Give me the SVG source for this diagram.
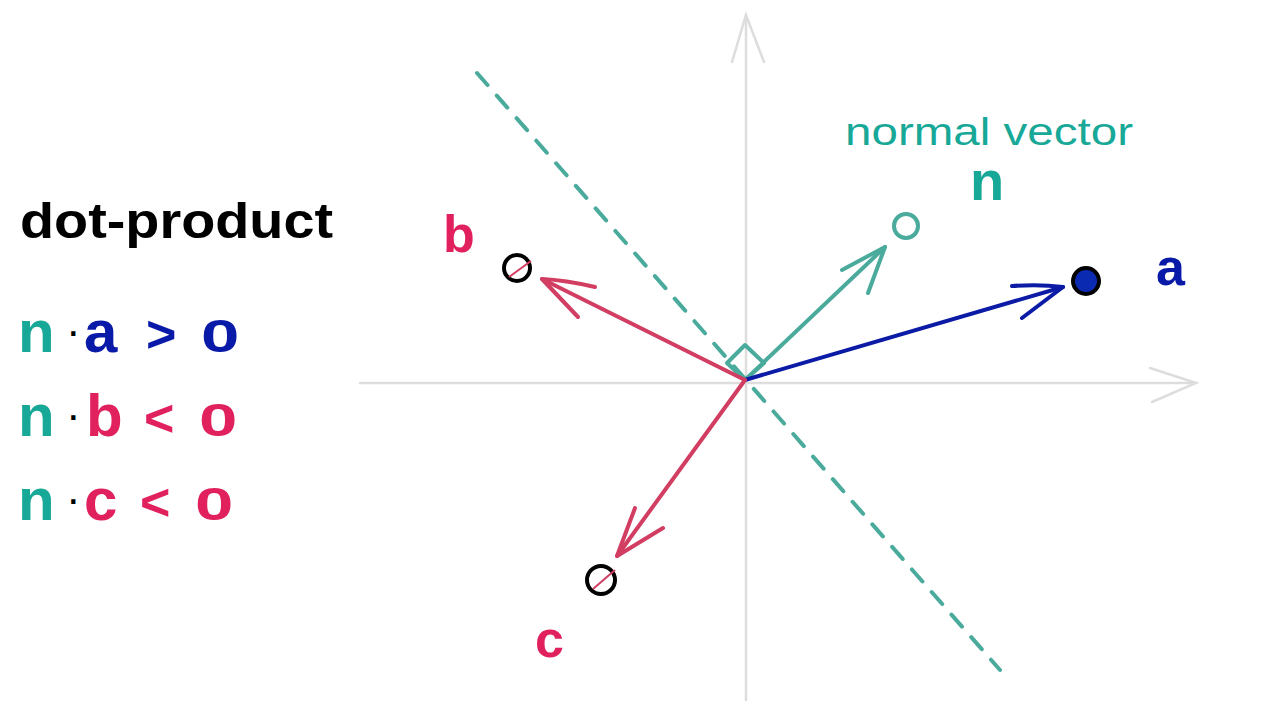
<svg xmlns="http://www.w3.org/2000/svg" width="1280" height="720" viewBox="0 0 1280 720">
<style>
.axis{stroke:#dddddd;stroke-width:2.5;fill:none;stroke-linecap:round}
.vec{fill:none;stroke-width:4;stroke-linecap:round;stroke-linejoin:round}
.teal{stroke:#4aaa9c}
.blue{stroke:#0b1ba6}
.red{stroke:#d23d62}
.t{font-family:"Liberation Sans","DejaVu Sans",sans-serif;font-weight:bold}
.tealf{fill:#17a898}
.bluef{fill:#0a1aa8}
.redf{fill:#e0215e}
.dot{font-weight:normal;font-size:44px;fill:#000000}
</style>
<rect width="1280" height="720" fill="#ffffff"/>
<g id="axes">
<line class="axis" x1="746" y1="700" x2="746" y2="15"/>
<path class="axis" d="M732 62 L746 15 L764 62"/>
<line class="axis" x1="360" y1="383" x2="1196" y2="383"/>
<path class="axis" d="M1150 368 L1196 383 L1152 402"/>
</g>
<g id="plane">
<line x1="477" y1="73" x2="1000" y2="670" stroke="#4aaa9c" stroke-width="4" stroke-dasharray="16 14" stroke-linecap="round"/>
<path d="M745 380 L727 363 L745 345 L764 363 Z" fill="none" stroke="#4aaa9c" stroke-width="4" stroke-linejoin="round"/>
</g>
<g id="connectors">
<g id="vec-n">
<path class="vec teal" d="M745 380 L885 247"/>
<path class="vec teal" d="M842 270 L885 247 L868 293"/>
</g>
<g id="vec-a">
<path class="vec blue" d="M745 380 L1063 287"/>
<path class="vec blue" d="M1012 286 Q1040 284 1063 287 L1022 318"/>
</g>
<g id="vec-b">
<path class="vec red" d="M745 380 L542 279"/>
<path class="vec red" d="M595 287 Q565 280 542 279 L578 317"/>
</g>
<g id="vec-c">
<path class="vec red" d="M745 380 L617 556"/>
<path class="vec red" d="M635 508 L617 556 L663 528"/>
</g>
</g>
<g id="node-n">
<circle cx="906" cy="226" r="12" fill="#ffffff" stroke="#4aaa9c" stroke-width="4"/>
<text class="t tealf" x="845" y="145" font-size="38" style="font-weight:normal" textLength="288" lengthAdjust="spacingAndGlyphs">normal vector</text>
<text class="t tealf" x="970" y="200" font-size="56">n</text>
</g>
<g id="node-a">
<circle cx="1086" cy="281" r="13" fill="#0b2ab2" stroke="#000000" stroke-width="4"/>
<text class="t bluef" x="1156" y="285" font-size="52">a</text>
</g>
<g id="node-b">
<circle cx="517" cy="268" r="13" fill="#ffffff" stroke="#000000" stroke-width="4"/>
<line x1="509" y1="277" x2="531" y2="261" stroke="#d23d62" stroke-width="2"/>
<text class="t redf" x="443" y="252" font-size="52">b</text>
</g>
<g id="node-c">
<circle cx="601" cy="580" r="14" fill="#ffffff" stroke="#000000" stroke-width="4"/>
<line x1="593" y1="589" x2="615" y2="570" stroke="#d23d62" stroke-width="2"/>
<text class="t redf" x="535" y="657" font-size="52">c</text>
</g>
<g id="legend">
<text class="t" x="20" y="238" font-size="50" fill="#000000" textLength="313" lengthAdjust="spacingAndGlyphs">dot-product</text>
<text class="t" y="352" font-size="60"><tspan class="tealf" x="18">n</tspan><tspan class="dot" x="66" dy="-6">·</tspan><tspan class="bluef" x="84" dy="6">a</tspan><tspan class="bluef" x="146" font-size="52">&gt;</tspan></text>
<text class="t bluef" font-size="46" transform="translate(201,352) scale(1.5,1)">0</text>
<text class="t" y="436" font-size="60"><tspan class="tealf" x="18">n</tspan><tspan class="dot" x="66" dy="-6">·</tspan><tspan class="redf" x="86" dy="6">b</tspan><tspan class="redf" x="144" font-size="52">&lt;</tspan></text>
<text class="t redf" font-size="46" transform="translate(199,436) scale(1.5,1)">0</text>
<text class="t" y="520" font-size="60"><tspan class="tealf" x="18">n</tspan><tspan class="dot" x="66" dy="-6">·</tspan><tspan class="redf" x="84" dy="6">c</tspan><tspan class="redf" x="140" font-size="52">&lt;</tspan></text>
<text class="t redf" font-size="46" transform="translate(195,520) scale(1.5,1)">0</text>
</g>
</svg>
